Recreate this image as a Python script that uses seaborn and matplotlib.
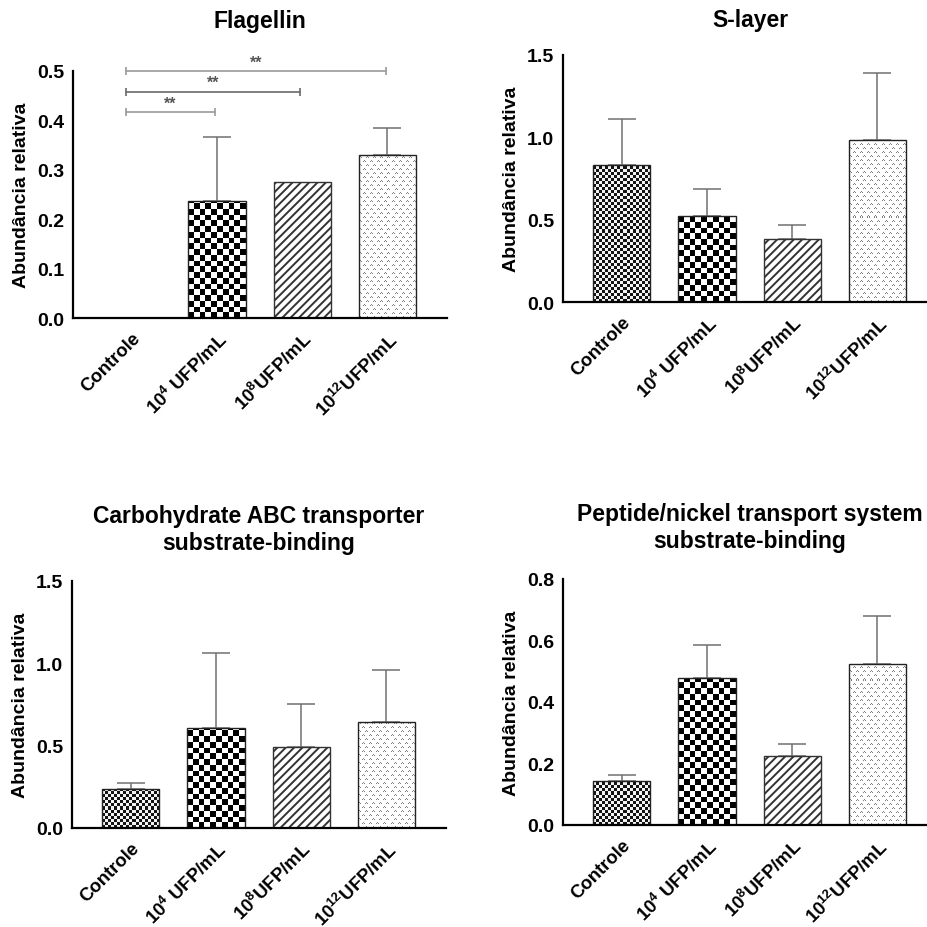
import numpy as np
import pandas as pd
import matplotlib
matplotlib.use("Agg")
import matplotlib.pyplot as plt
import seaborn as sns

# ---------------- data ----------------
categories = ["Controle", "10$^{4}$ UFP/mL", "10$^{8}$UFP/mL", "10$^{12}$UFP/mL"]

flagellin_mean = [0.0, 0.237, 0.275, 0.329]
flagellin_err = [np.nan, 0.129, np.nan, 0.055]

slayer_mean = [0.832, 0.520, 0.383, 0.984]
slayer_err = [0.279, 0.166, 0.085, 0.406]

carb_mean = [0.237, 0.609, 0.494, 0.641]
carb_err = [0.038, 0.455, 0.262, 0.321]

peptide_mean = [0.144, 0.478, 0.223, 0.525]
peptide_err = [0.019, 0.108, 0.039, 0.154]

titles = ["Flagellin", "S-layer",
          "Carbohydrate ABC transporter\nsubstrate-binding",
          "Peptide/nickel transport system\nsubstrate-binding"]
yticks_list = [[0.0, 0.1, 0.2, 0.3, 0.4, 0.5],
               [0.0, 0.5, 1.0, 1.5],
               [0.0, 0.5, 1.0, 1.5],
               [0.0, 0.2, 0.4, 0.6, 0.8]]
# significance comparisons for Flagellin: (group a, group b, label)
flag_sig = [(0, 1, "**"), (0, 2, "**"), (0, 3, "**")]
ylabel = "Abundância relativa"

# ---------------- style ----------------
sns.set_style("white")
plt.rcParams["font.family"] = ["Liberation Sans", "DejaVu Sans"]
plt.rcParams["font.weight"] = "bold"
plt.rcParams["text.color"] = "black"
plt.rcParams["axes.labelcolor"] = "black"
plt.rcParams["xtick.color"] = "black"
plt.rcParams["ytick.color"] = "black"
plt.rcParams["mathtext.fontset"] = "custom"
plt.rcParams["mathtext.rm"] = "Liberation Sans"
plt.rcParams["mathtext.it"] = "Liberation Sans:italic"
plt.rcParams["mathtext.bf"] = "Liberation Sans:bold"
plt.rcParams["hatch.linewidth"] = 1.4

fig = plt.figure(figsize=(9.28, 9.28), dpi=100)
W = 374 / 928
rects = [[73 / 928, 1 - 319 / 928, W, 247 / 928],
         [563 / 928, 1 - 303 / 928, W, 247 / 928],
         [72 / 928, 1 - 829 / 928, W, 247 / 928],
         [563 / 928, 1 - 826 / 928, W, 246 / 928]]
title_pads = [32, 21, 23, 23]

means = [flagellin_mean, slayer_mean, carb_mean, peptide_mean]
errs = [flagellin_err, slayer_err, carb_err, peptide_err]


def checker(nx, ny, lo, hi):
    a = (np.indices((ny, nx)).sum(0) % 2).astype(float)
    return np.where(a > 0, hi, lo)


light_tile = np.array([
    [.50, 1, .50, 1, 1, 1, 1],
    [1, .50, 1, 1, 1, 1, 1],
    [1, 1, 1, 1, 1, 1, 1],
    [1, 1, 1, 1, 1, 1, 1],
    [1, 1, 1, 1, .50, 1, .50],
    [1, 1, 1, 1, 1, .50, 1],
    [1, 1, 1, 1, 1, 1, 1],
    [1, 1, 1, 1, 1, 1, 1],
])

for i in range(4):
    ax = fig.add_axes(rects[i])
    df = pd.DataFrame({"cat": categories, "val": means[i]})
    sns.barplot(data=df, x="cat", y="val", order=categories, color="white",
                width=0.67, edgecolor="#222222", linewidth=1.0,
                errorbar=None, saturation=1, ax=ax)
    yt = yticks_list[i]
    ax.set_xlim(-0.69, 3.7)
    ax.set_ylim(0, yt[-1])
    ax.set_yticks(yt)
    ax.set_yticklabels([f"{v:.1f}" for v in yt])
    bars = list(ax.patches)[:4]

    # textures
    for j, bar in enumerate(bars):
        bx, bw, bh = bar.get_x(), bar.get_width(), bar.get_height()
        if bh <= 0:
            continue
        (x0, y0) = ax.transData.transform((bx, 0))
        (x1, y1) = ax.transData.transform((bx + bw, bh))
        wpx, hpx = x1 - x0, y1 - y0
        ppu_y = hpx / bh
        if j == 2:
            bar.set_hatch("////")
            bar.set_edgecolor("#333333")
            continue
        if j == 0:
            cell = 3.0
            nx, ny = int(np.ceil(wpx / cell)), int(np.ceil(hpx / cell))
            img = checker(nx, ny, 0.08, 0.95)
        elif j == 1:
            cell = 5.7
            nx, ny = int(np.ceil(wpx / cell)), int(np.ceil(hpx / cell))
            img = checker(nx, ny, 0.0, 1.0)
        else:
            cell = 1.0
            nx, ny = int(np.ceil(wpx)), int(np.ceil(hpx))
            reps = (ny // light_tile.shape[0] + 1, nx // light_tile.shape[1] + 1)
            img = np.tile(light_tile, reps)[:ny, :nx]
        top = ny * cell / ppu_y
        right = bx + nx * cell * bw / wpx
        im = ax.imshow(img, cmap="gray", vmin=0, vmax=1, origin="lower",
                       extent=(bx, right, 0, top), aspect="auto",
                       interpolation="nearest", zorder=bar.get_zorder() - 0.01)
        im.set_clip_path(bar)
        bar.set_facecolor("none")

    # error bars (upper only)
    for j, bar in enumerate(bars):
        e = errs[i][j]
        if np.isnan(e):
            continue
        cx = bar.get_x() + bar.get_width() / 2
        ax.errorbar([cx], [bar.get_height()], yerr=[[0], [e]], fmt="none",
                    ecolor="#707070", elinewidth=1.1, capsize=10,
                    capthick=1.1, zorder=0.5)

    ax.set_xlim(-0.69, 3.7)
    ax.set_ylim(0, yt[-1])

    # significance brackets
    if i == 0:
        ytop = yt[-1]
        step = 0.042
        levels = {3: ytop, 2: ytop - step, 1: ytop - 2 * step}
        cols = {3: "#9a9a9a", 2: "#6a6a6a", 1: "#9a9a9a"}
        for a, b, lab in flag_sig:
            xa = bars[a].get_x() + bars[a].get_width() / 2 - 0.07
            xb = bars[b].get_x() + bars[b].get_width() / 2 - 0.02
            yy = levels[b]
            ax.plot([xa, xb], [yy, yy], color=cols[b], lw=1.2, marker="|",
                    ms=6, mew=1.2, clip_on=False, zorder=3)
            ax.text((xa + xb) / 2, yy + 0.003, lab, ha="center", va="bottom",
                    fontsize=11.5, color="#555555", fontweight="bold")

    sns.despine(ax=ax)
    for s in ["left", "bottom"]:
        ax.spines[s].set_linewidth(1.6)
        ax.spines[s].set_color("black")
    ax.tick_params(axis="both", direction="out", length=4.5, width=1.6,
                   colors="black", labelsize=14)
    ax.tick_params(axis="y", pad=2)
    ax.set_xlabel("")
    ax.set_ylabel(ylabel, fontsize=14, fontweight="bold", labelpad=5,
                  color="black")
    for lbl in ax.get_yticklabels():
        lbl.set_fontweight("bold")
    ax.set_xticks(range(4))
    ax.set_xticklabels(categories, rotation=45, ha="right",
                       rotation_mode="anchor", fontsize=13.3, fontweight="bold")
    ax.set_title(titles[i], fontsize=16.5, fontweight="bold", pad=title_pads[i],
                 color="black")

fig.savefig("out.png", dpi=100)
